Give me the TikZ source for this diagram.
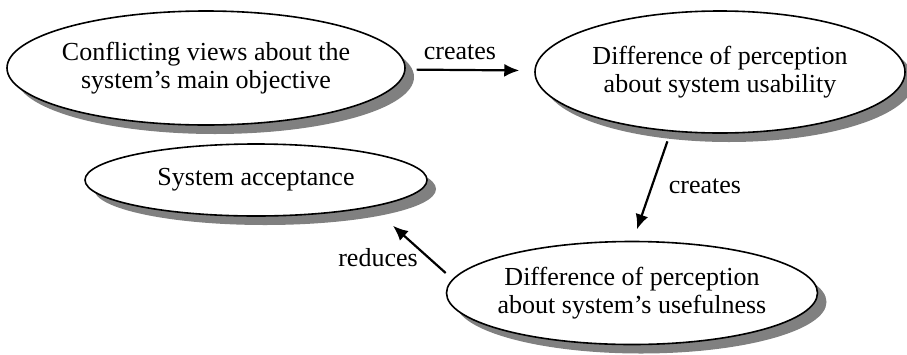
\documentclass[tikz,border=0pt]{standalone}
\usepackage{fontspec}
\setmainfont{Liberation Serif}
\usetikzlibrary{shapes.geometric,shadows,arrows.meta}

\tikzset{
    bubble/.style={ellipse, draw=black, line width=1.6pt, fill=white,
        inner sep=-40pt, align=center, font=\fontsize{26}{28}\selectfont,
        drop shadow={shadow xshift=9pt, shadow yshift=-9pt, fill=black!50, opacity=1}},
    arr/.style={-{Latex[length=15pt,width=13pt]}, line width=2.2pt},
    lbl/.style={font=\fontsize{26}{28}\selectfont, inner sep=0pt}
}

\begin{document}
\begin{tikzpicture}[x=1pt, y=-1pt]

    \useasboundingbox (0,0) rectangle (907,354);

    % Ellipses
    \node[bubble, minimum width=398pt, minimum height=114pt] (conflict) at (206,68)
        {Conflicting views about the\\system's main objective};
    \node[bubble, minimum width=370pt, minimum height=122pt] (usability) at (720,72)
        {Difference of perception\\about system usability};
    \node[bubble, minimum width=342pt, minimum height=72pt] (accept) at (256,180)
        {System acceptance};
    \node[bubble, minimum width=371pt, minimum height=103pt] (usefulness) at (632,293)
        {Difference of perception\\about system's usefulness};

    % Arrows
    \draw[arr, shorten <=11pt, shorten >=15pt] (conflict) -- (usability);
    \draw[arr, shorten <=8pt, shorten >=12pt] ([xshift=-50pt]usability.south) -- ([xshift=1pt]usefulness.north);
    \draw[arr] ([yshift=20pt]usefulness.west) -- ([xshift=137pt, yshift=-9pt]accept.south);

    % Arrow labels
    \node[lbl] (createsA) at (460,52) {creates};
    \node[lbl] (createsB) at (705,186) {creates};
    \node[lbl] (reduces) at (378,258) {reduces};

\end{tikzpicture}
\end{document}
